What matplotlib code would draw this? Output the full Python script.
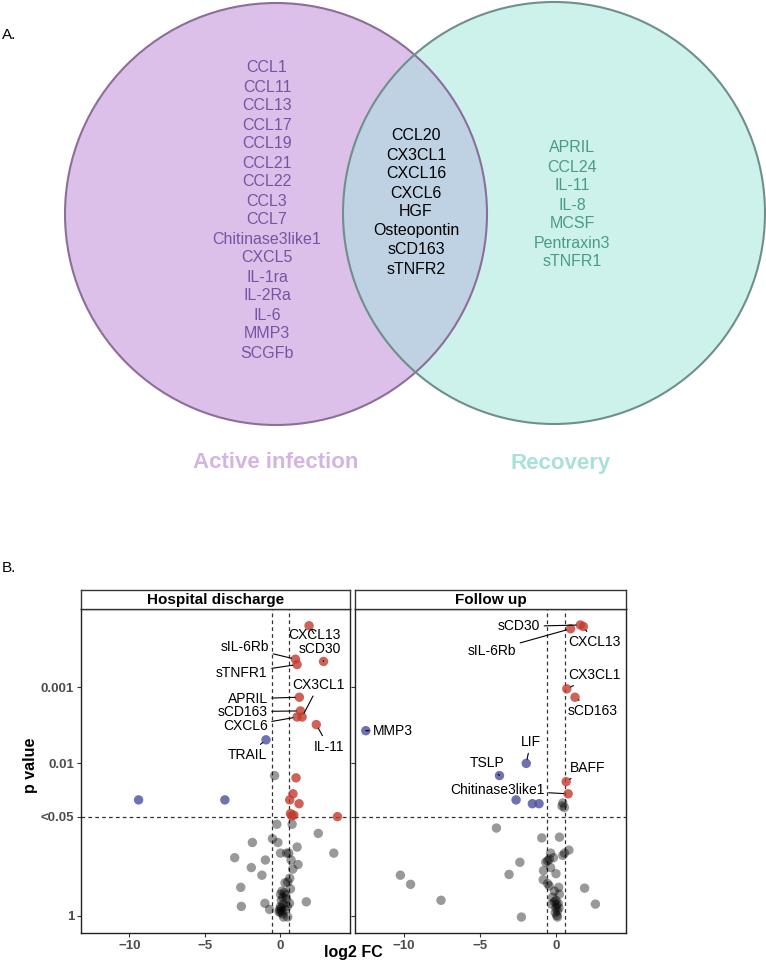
import numpy as np
import matplotlib
matplotlib.use("Agg")
import matplotlib.pyplot as plt
from matplotlib.patches import Circle

plt.rcParams['font.family'] = ['Liberation Sans', 'DejaVu Sans']

# ---------------- Venn contents ----------------
active_only = ["CCL1", "CCL11", "CCL13", "CCL17", "CCL19", "CCL21", "CCL22", "CCL3",
               "CCL7", "Chitinase3like1", "CXCL5", "IL-1ra", "IL-2Ra", "IL-6", "MMP3", "SCGFb"]
shared = ["CCL20", "CX3CL1", "CXCL16", "CXCL6", "HGF", "Osteopontin", "sCD163", "sTNFR2"]
recovery_only = ["APRIL", "CCL24", "IL-11", "IL-8", "MCSF", "Pentraxin3", "sTNFR1"]
set_names = ["Active infection", "Recovery"]

# ---------------- Volcano data (x = log2 FC, y = -log10 p) ----------------
# Hospital discharge
hd_red_x = [1.89, 2.85, 0.99, 1.10, 1.25, 1.32, 1.43, 1.10, 2.37, 1.03, 0.83, 0.61, 1.23, 0.66, 0.88, 0.75, 3.77]
hd_red_y = [3.81, 3.34, 3.37, 3.30, 2.87, 2.69, 2.61, 2.61, 2.51, 1.81, 1.60, 1.52, 1.47, 1.34, 1.32, 1.31, 1.30]
hd_blue_x = [-0.96, -9.39, -3.68]
hd_blue_y = [2.31, 1.52, 1.52]
hd_grey_x = [-0.39, -0.24, 0.77, 2.50, -0.53, -1.86, -0.17, 1.10, 3.53, 0.00, 0.40, 0.55,
             -3.03, -1.00, 0.70, 1.16, -1.93, 0.81, -1.23, 0.61, 0.48, 0.30, -2.63, 0.66,
             0.10, 0.25, 0.00, 0.35, 0.15, 0.05, -1.03, 1.71, -2.59, 0.60, -0.72, 0.00,
             -0.05, 0.10, 0.00, 0.15, 0.05, -0.10, 0.48, 0.20, 0.30, 0.20, 0.40, 0.45]
hd_grey_y = [1.84, 1.20, 1.20, 1.08, 1.01, 0.96, 0.96, 0.90, 0.82, 0.82, 0.82, 0.82,
             0.76, 0.73, 0.73, 0.67, 0.63, 0.61, 0.53, 0.49, 0.44, 0.43, 0.37, 0.35,
             0.32, 0.30, 0.28, 0.27, 0.24, 0.20, 0.16, 0.18, 0.12, 0.16, 0.08, 0.12,
             0.08, 0.06, 0.04, 0.02, 0.10, 0.05, -0.02, -0.02, 0.08, 0.15, 0.22, 0.12]
hd_labels = ["CXCL13", "sCD30", "sIL-6Rb", "sTNFR1", "APRIL", "sCD163", "CXCL6", "CX3CL1", "IL-11", "TRAIL"]
hd_lab_x = [1.89, 2.85, 0.99, 1.10, 1.25, 1.32, 1.10, 1.43, 2.37, -0.96]
hd_lab_y = [3.81, 3.34, 3.37, 3.30, 2.87, 2.69, 2.61, 2.61, 2.51, 2.31]

# Follow up
fu_red_x = [1.80, 1.60, 0.96, 0.71, 1.25, 0.67, 0.80]
fu_red_y = [3.80, 3.82, 3.77, 2.98, 2.87, 1.76, 1.60]
fu_blue_x = [-12.49, -1.95, -3.71, -2.62, -1.55, -1.11]
fu_blue_y = [2.43, 2.00, 1.84, 1.52, 1.47, 1.47]
fu_grey_x = [0.45, 0.55, 0.40, -3.91, -0.93, 0.23, -0.35, -0.17, -0.55, -0.67, -0.44, 0.45,
             0.56, 0.85, -2.37, -0.35, -0.82, -3.08, -10.22, 0.00, -0.84, -0.55, -0.44, -9.55,
             1.88, 0.18, -0.10, 0.22, -0.22, -7.55, 2.59, -0.10, 0.05, 0.15, 0.00, 0.10,
             -0.05, 0.05, 0.10, 0.00, -2.27, -0.30, 0.20]
fu_grey_y = [1.48, 1.42, 1.44, 1.15, 1.02, 1.03, 0.82, 0.76, 0.72, 0.70, 0.74, 0.79,
             0.82, 0.86, 0.70, 0.63, 0.59, 0.54, 0.53, 0.55, 0.47, 0.42, 0.39, 0.41,
             0.36, 0.37, 0.32, 0.28, 0.24, 0.20, 0.15, 0.18, 0.14, 0.16, 0.10, 0.06,
             0.04, 0.00, -0.02, 0.20, -0.02, 0.15, 0.10]
fu_labels = ["sCD30", "sIL-6Rb", "CXCL13", "CX3CL1", "sCD163", "MMP3", "LIF", "TSLP", "BAFF", "Chitinase3like1"]
fu_lab_x = [1.60, 0.96, 1.80, 0.71, 1.25, -12.49, -1.95, -3.71, 0.67, 0.80]
fu_lab_y = [3.82, 3.77, 3.80, 2.98, 2.87, 2.43, 2.00, 1.84, 1.76, 1.60]

y_ticks = [3, 2, -np.log10(0.05), 0]
y_ticklabels = ["0.001", "0.01", "<0.05", "1"]
x_ticks = [-10, -5, 0]
fc_cut = np.log2(1.5)

# label placement (text position, alignment)
hd_text = [(2.27, 3.69, 'center'), (2.63, 3.50, 'center'), (-0.75, 3.53, 'right'), (-0.85, 3.19, 'right'),
           (-0.85, 2.85, 'right'), (-0.85, 2.68, 'right'), (-0.85, 2.49, 'right'), (2.53, 3.03, 'center'),
           (3.18, 2.22, 'center'), (-2.2, 2.11, 'center')]
fu_text = [(-1.05, 3.80, 'right'), (-2.62, 3.48, 'right'), (0.8, 3.59, 'left'), (0.8, 3.16, 'left'),
           (0.8, 2.69, 'left'), (-12.0, 2.43, 'left'), (-1.67, 2.28, 'center'), (-4.5, 2.0, 'center'),
           (0.89, 1.94, 'left'), (-0.75, 1.65, 'right')]

W, H = 766, 967
fig = plt.figure(figsize=(W / 100, H / 100), dpi=100)

# ---------------- Panel A: Venn ----------------
ax_v = fig.add_axes([0, 0, 1, 1])
ax_v.set_xlim(0, W)
ax_v.set_ylim(H, 0)
ax_v.axis('off')

r = 211
c_left = (276, 214)
c_right = (554, 213)
left = Circle(c_left, r, facecolor='#dcc0ea', edgecolor='none', zorder=1)
right = Circle(c_right, r, facecolor='#cdf2ec', edgecolor='none', zorder=1)
ax_v.add_patch(left)
ax_v.add_patch(right)
overlap = Circle(c_right, r, facecolor='#bfd2e3', edgecolor='none', zorder=2)
ax_v.add_patch(overlap)
overlap.set_clip_path(left)
ax_v.add_patch(Circle(c_left, r, facecolor='none', edgecolor='#8c6f98', lw=1.5, zorder=3))
ax_v.add_patch(Circle(c_right, r, facecolor='none', edgecolor='#6f8f8b', lw=1.5, zorder=3))

step = 19
for i, name in enumerate(active_only):
    ax_v.text(267, 68 + i * step, name, ha='center', va='center', fontsize=11.5, color='#7b52a3', zorder=4)
for i, name in enumerate(shared):
    ax_v.text(416, 136 + i * step, name, ha='center', va='center', fontsize=11.5, color='black', zorder=4)
for i, name in enumerate(recovery_only):
    ax_v.text(572, 148 + i * step, name, ha='center', va='center', fontsize=11.5, color='#4a9a8a', zorder=4)

ax_v.text(276, 463, set_names[0], ha='center', va='center', fontsize=16, fontweight='bold', color='#d4b5e2')
ax_v.text(561, 463, set_names[1], ha='center', va='center', fontsize=16, fontweight='bold', color='#a9e1da')
ax_v.text(2, 35, "A.", ha='left', va='center', fontsize=11)
ax_v.text(2, 568, "B.", ha='left', va='center', fontsize=11)

# ---------------- Panel B: volcano facets ----------------
def px_axes(x0, y0, x1, y1):
    return fig.add_axes([x0 / W, 1 - y1 / H, (x1 - x0) / W, (y1 - y0) / H])

panels = [
    ("Hospital discharge", (81, 350), hd_red_x, hd_red_y, hd_blue_x, hd_blue_y, hd_grey_x, hd_grey_y,
     hd_labels, hd_lab_x, hd_lab_y, hd_text),
    ("Follow up", (355, 626), fu_red_x, fu_red_y, fu_blue_x, fu_blue_y, fu_grey_x, fu_grey_y,
     fu_labels, fu_lab_x, fu_lab_y, fu_text),
]

for k, (title, (xa, xb), rx, ry, bx, by, gx, gy, labs, lx, ly, tpos) in enumerate(panels):
    ax = px_axes(xa, 609, xb, 933)
    ax.scatter(gx, gy, s=46, color='black', alpha=0.4, edgecolors='none', zorder=2)
    ax.scatter(rx, ry, s=46, color='#c23b2e', alpha=0.8, edgecolors='none', zorder=3)
    ax.scatter(bx, by, s=46, color='#4b4f9e', alpha=0.8, edgecolors='none', zorder=3)
    ax.axvline(-fc_cut, color='#333333', ls=(0, (3, 2.5)), lw=0.9, zorder=1)
    ax.axvline(fc_cut, color='#333333', ls=(0, (3, 2.5)), lw=0.9, zorder=1)
    ax.axhline(-np.log10(0.05), color='#333333', ls=(0, (3, 2.5)), lw=0.9, zorder=1)
    for name, px, py, (tx, ty, ha) in zip(labs, lx, ly, tpos):
        ax.annotate(name, xy=(px, py), xytext=(tx, ty), ha=ha, va='center', fontsize=10, zorder=4,
                    arrowprops=dict(arrowstyle='-', color='black', lw=0.8, shrinkA=1, shrinkB=3))
    ax.set_xlim(-13.2, 4.6)
    ax.set_ylim(-0.23, 4.03)
    ax.set_xticks(x_ticks)
    ax.set_xticklabels([str(t).replace('-', '\u2212') for t in x_ticks], fontsize=9.5,
                       fontweight='bold', color='#4d4d4d')
    ax.set_yticks(y_ticks)
    if k == 0:
        ax.set_yticklabels(y_ticklabels, fontsize=9.5, fontweight='bold', color='#4d4d4d')
    else:
        ax.set_yticklabels([])
        ax.tick_params(axis='y', length=0)
    ax.tick_params(length=3, width=0.8, color='#333333', pad=2)
    for s in ax.spines.values():
        s.set_color('#222222')
        s.set_linewidth(1.0)
    # strip
    st = px_axes(xa, 590, xb, 609)
    st.set_xticks([])
    st.set_yticks([])
    for s in st.spines.values():
        s.set_color('#333333')
        s.set_linewidth(1.0)
    st.text(0.5, 0.45, title, ha='center', va='center', fontsize=11, fontweight='bold', transform=st.transAxes)

fig.text(353 / W, 1 - 953 / H, "log2 FC", ha='center', va='center', fontsize=11.5, fontweight='bold')
fig.text(30 / W, 1 - 765 / H, "p value", ha='center', va='center', fontsize=11.5, fontweight='bold',
         rotation=90)

fig.savefig("out.png", dpi=100)
